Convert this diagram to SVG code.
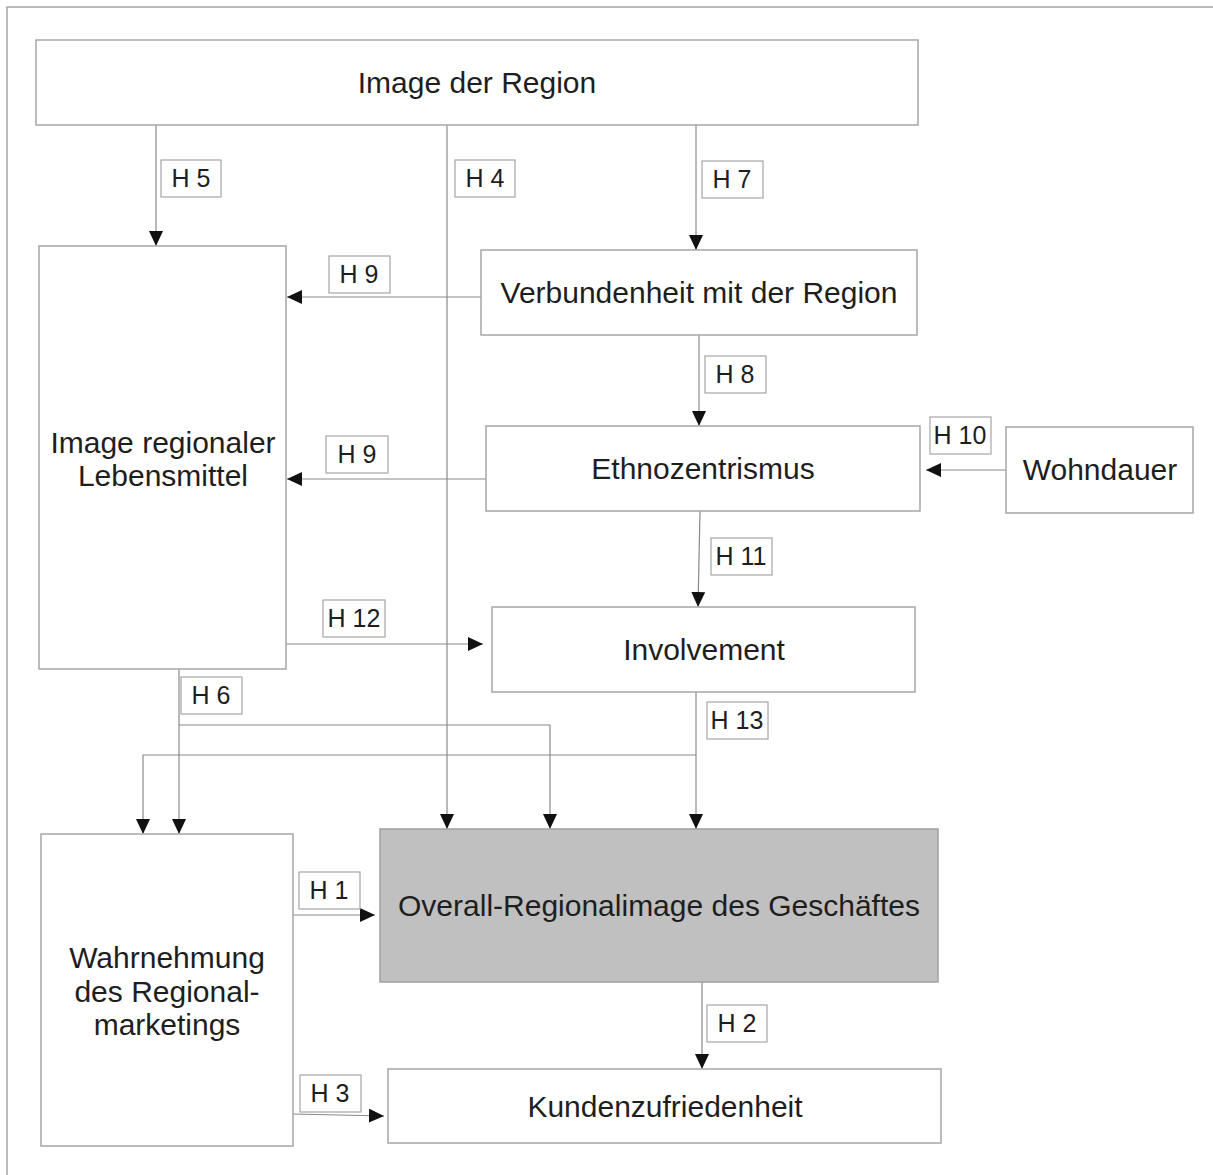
<svg xmlns="http://www.w3.org/2000/svg" width="1213" height="1175" viewBox="0 0 1213 1175">
<style>
.frame{fill:none;stroke:#a6a6a6;stroke-width:1.5}
.box{fill:#fff;stroke:#a6a6a6;stroke-width:1.5}
.grey{fill:#c0c0c0;stroke:#a0a0a0;stroke-width:1.5}
.lbl{fill:#fff;stroke:#a6a6a6;stroke-width:1.2}
.t{font-family:"Liberation Sans",Arial,sans-serif;font-size:30px;fill:#1e1e1e;text-anchor:middle}
.h{font-family:"Liberation Sans",Arial,sans-serif;font-size:25px;fill:#1e1e1e;text-anchor:middle}
.c{fill:none;stroke:#8a8a8a;stroke-width:1.2}
.ca{fill:none;stroke:#8a8a8a;stroke-width:1.2;marker-end:url(#ah)}
</style>
<defs>
<marker id="ah" markerUnits="userSpaceOnUse" markerWidth="16" markerHeight="16" refX="15" refY="7" orient="auto">
<path d="M0,0 L15,7 L0,14 Z" fill="#111"/>
</marker>
</defs>
<rect width="1213" height="1175" fill="#fff"/>
<path class="frame" d="M7,1175 L7,7 L1213,7"/>

<g id="connectors">
<line class="ca" x1="156" y1="125" x2="156" y2="246"/>
<line class="ca" x1="447" y1="125" x2="447" y2="829"/>
<line class="ca" x1="696" y1="125" x2="696" y2="250"/>
<line class="ca" x1="481" y1="297" x2="287" y2="297"/>
<line class="ca" x1="699" y1="335" x2="699" y2="426"/>
<line class="ca" x1="486" y1="479" x2="287" y2="479"/>
<line class="ca" x1="1006" y1="470" x2="926" y2="470"/>
<line class="ca" x1="700" y1="511" x2="698" y2="607"/>
<line class="ca" x1="286" y1="644" x2="483" y2="644"/>
<line class="ca" x1="179" y1="669" x2="179" y2="834"/>
<path class="ca" d="M179,725 L550,725 L550,829"/>
<line class="ca" x1="696" y1="692" x2="696" y2="829"/>
<path class="ca" d="M696,755 L143,755 L143,834"/>
<line class="ca" x1="293" y1="915" x2="375" y2="915"/>
<line class="ca" x1="702" y1="982" x2="702" y2="1069"/>
<line class="ca" x1="293" y1="1114" x2="384" y2="1116"/>
</g>

<g id="n-image-region"><rect class="box" x="36" y="40" width="882" height="85"/><text class="t" x="477" y="93">Image der Region</text></g>
<g id="n-image-lebensmittel"><rect class="box" x="39" y="246" width="247" height="423"/><text class="t" x="163" y="453">Image regionaler</text><text class="t" x="163" y="486">Lebensmittel</text></g>
<g id="n-verbundenheit"><rect class="box" x="481" y="250" width="436" height="85"/><text class="t" x="699" y="303">Verbundenheit mit der Region</text></g>
<g id="n-ethno"><rect class="box" x="486" y="426" width="434" height="85"/><text class="t" x="703" y="479">Ethnozentrismus</text></g>
<g id="n-wohndauer"><rect class="box" x="1006" y="427" width="187" height="86"/><text class="t" x="1100" y="480">Wohndauer</text></g>
<g id="n-involvement"><rect class="box" x="492" y="607" width="423" height="85"/><text class="t" x="704" y="660">Involvement</text></g>
<g id="n-wahrnehmung"><rect class="box" x="41" y="834" width="252" height="312"/><text class="t" x="167" y="968">Wahrnehmung</text><text class="t" x="167" y="1002">des Regional-</text><text class="t" x="167" y="1035">marketings</text></g>
<g id="n-overall"><rect class="grey" x="380" y="829" width="558" height="153"/><text class="t" x="659" y="916">Overall-Regionalimage des Geschäftes</text></g>
<g id="n-kunden"><rect class="box" x="388" y="1069" width="553" height="74"/><text class="t" x="665" y="1117">Kundenzufriedenheit</text></g>

<g id="labels">
<g id="l-h5"><rect class="lbl" x="161" y="160" width="60" height="37"/><text class="h" x="191" y="187">H 5</text></g>
<g id="l-h4"><rect class="lbl" x="455" y="160" width="60" height="37"/><text class="h" x="485" y="187">H 4</text></g>
<g id="l-h7"><rect class="lbl" x="702" y="161" width="61" height="37"/><text class="h" x="732" y="188">H 7</text></g>
<g id="l-h9a"><rect class="lbl" x="329" y="256" width="61" height="37"/><text class="h" x="359" y="283">H 9</text></g>
<g id="l-h8"><rect class="lbl" x="705" y="356" width="61" height="37"/><text class="h" x="735" y="383">H 8</text></g>
<g id="l-h9b"><rect class="lbl" x="326" y="436" width="62" height="37"/><text class="h" x="357" y="463">H 9</text></g>
<g id="l-h10"><rect class="lbl" x="930" y="417" width="61" height="37"/><text class="h" x="960" y="444">H 10</text></g>
<g id="l-h11"><rect class="lbl" x="711" y="538" width="61" height="37"/><text class="h" x="741" y="565">H 11</text></g>
<g id="l-h12"><rect class="lbl" x="323" y="600" width="62" height="37"/><text class="h" x="354" y="627">H 12</text></g>
<g id="l-h6"><rect class="lbl" x="181" y="677" width="61" height="37"/><text class="h" x="211" y="704">H 6</text></g>
<g id="l-h13"><rect class="lbl" x="707" y="702" width="61" height="37"/><text class="h" x="737" y="729">H 13</text></g>
<g id="l-h1"><rect class="lbl" x="299" y="872" width="61" height="37"/><text class="h" x="329" y="899">H 1</text></g>
<g id="l-h2"><rect class="lbl" x="707" y="1005" width="60" height="37"/><text class="h" x="737" y="1032">H 2</text></g>
<g id="l-h3"><rect class="lbl" x="300" y="1075" width="61" height="37"/><text class="h" x="330" y="1102">H 3</text></g>
</g>
</svg>
